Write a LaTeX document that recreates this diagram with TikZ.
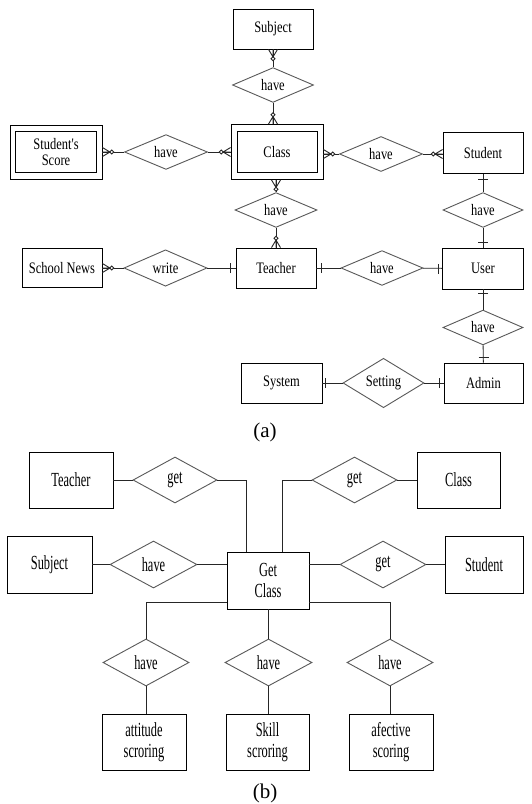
\documentclass[tikz,border=0pt]{standalone}
\usepackage{fontspec}
\setmainfont{Liberation Serif}
\newfontfamily\fa[FakeStretch=0.78]{Liberation Serif}
\newfontfamily\fb[FakeStretch=0.62]{Liberation Serif}
\usetikzlibrary{shapes.geometric,calc}
\tikzset{
 ent/.style={draw=black, line width=0.9pt, rectangle, inner sep=0pt, font=\fa\fontsize{16}{17}\selectfont, align=center},
 rel/.style={draw=black!65, line width=0.9pt, diamond, inner sep=0pt, font=\fa\fontsize{16}{17}\selectfont},
 entb/.style={ent, font=\fb\fontsize{20}{22}\selectfont},
 relb/.style={rel, font=\fb\fontsize{20}{22}\selectfont},
 conn/.style={line width=0.9pt, draw=black!85},
 lab/.style={font=\fontsize{21}{24}\selectfont, inner sep=0pt},
}
\newcommand\crowft[2]{\begin{scope}[shift={(#1)},rotate=#2]\draw[conn] (0,4.5)--(7.5,0)--(0,-4.5) (0,0)--(7.5,0); \draw[conn,fill=white] (9.3,0) circle (1.9);\end{scope}}
\newcommand\onetick[3]{\begin{scope}[shift={(#1)},rotate=#2]\draw[conn] (#3,-5)--(#3,5);\end{scope}}
\begin{document}
\begin{tikzpicture}[x=1pt,y=-1pt]
\fill[white] (0,0) rectangle (532,804);
\useasboundingbox (0,0) rectangle (532,804);
% ---------- (a) ----------
\node[ent, minimum width=80pt, minimum height=40pt] (subj) at (273,29) {Subject};
\node[rel, minimum width=81pt, minimum height=33pt] (hv1) at (273,85) {have};
\node[ent, minimum width=92pt, minimum height=54pt] (ss) at (56,152) {};
\node[ent, minimum width=81pt, minimum height=41pt] (ssin) at (56,152) {Student's\\[-1pt]Score};
\node[rel, minimum width=83pt, minimum height=34pt] (hv2) at (166,152) {have};
\node[ent, minimum width=92pt, minimum height=55pt] (cls) at (277,152) {};
\node[ent, minimum width=80pt, minimum height=41pt] (clsin) at (277,152) {Class};
\node[rel, minimum width=83pt, minimum height=35pt] (hv3) at (381,154) {have};
\node[ent, minimum width=80pt, minimum height=41pt] (stu) at (483,153) {Student};
\node[rel, minimum width=80pt, minimum height=33pt] (hv4) at (483,210) {have};
\node[rel, minimum width=82pt, minimum height=34pt] (hv5) at (276,210) {have};
\node[ent, minimum width=80pt, minimum height=39pt] (sn) at (62,268) {School News};
\node[rel, minimum width=83pt, minimum height=33pt] (wr) at (165.5,268) {write};
\node[ent, minimum width=80pt, minimum height=40pt] (tch) at (276,268) {Teacher};
\node[rel, minimum width=82pt, minimum height=33pt] (hv6) at (382,268) {have};
\node[ent, minimum width=81pt, minimum height=41pt] (usr) at (483,268.5) {User};
\node[rel, minimum width=80pt, minimum height=33pt] (hv7) at (483,327.5) {have};
\node[ent, minimum width=81pt, minimum height=40pt] (sys) at (281.5,383) {System};
\node[rel, minimum width=81pt, minimum height=34pt] (set) at (383.5,383) {Setting};
\node[ent, minimum width=79pt, minimum height=40pt] (adm) at (483.5,383) {Admin};
\node[lab] (la) at (265,432) {(a)};
% connectors (a)
\draw[conn] (subj) -- (hv1);
\draw[conn] (hv1) -- (hv1 |- cls.north);
\draw[conn] (ss) -- (hv2);
\draw[conn] (hv2) -- (cls);
\draw[conn] (cls.east |- hv3) -- (hv3);
\draw[conn] (hv3) -- (stu.west |- hv3);
\draw[conn] (cls.south -| hv5) -- (hv5);
\draw[conn] (hv5) -- (tch);
\draw[conn] (stu) -- (hv4);
\draw[conn] (hv4) -- (usr);
\draw[conn] (sn) -- (wr);
\draw[conn] (wr) -- (tch);
\draw[conn] (tch) -- (hv6);
\draw[conn] (hv6) -- (usr);
\draw[conn] (usr) -- (hv7);
\draw[conn] (hv7) -- (adm);
\draw[conn] (sys) -- (set);
\draw[conn] (set) -- (adm);
% cardinality marks
\crowft{subj.south -| hv1}{270}
\crowft{hv1 |- cls.north}{90}
\crowft{ss.east}{0}
\crowft{cls.west}{180}
\crowft{cls.east |- hv3}{0}
\crowft{stu.west |- hv3}{180}
\crowft{cls.south -| hv5}{270}
\crowft{tch.north}{90}
\crowft{sn.east}{0}
\onetick{stu.south}{270}{5}
\onetick{usr.north}{90}{5}
\onetick{usr.south}{270}{4}
\onetick{adm.north}{90}{5}
\onetick{tch.west}{180}{5}
\onetick{tch.east}{0}{5}
\onetick{usr.west}{180}{4}
\onetick{sys.east}{0}{3}
\onetick{adm.west}{180}{4}
% ---------- (b) ----------
\node[entb, minimum width=84pt, minimum height=56pt] (t2) at (71,480) {Teacher};
\node[relb, minimum width=84pt, minimum height=46pt] (g1) at (175,480) {get};
\node[entb, minimum width=83pt, minimum height=56pt] (c2) at (458.5,480) {Class};
\node[relb, minimum width=85pt, minimum height=46pt] (g2) at (354.5,480) {get};
\node[entb, minimum width=85pt, minimum height=57pt] (s2) at (49.5,564.5) {Subject};
\node[relb, minimum width=87pt, minimum height=47pt] (h0) at (153.5,564.5) {have};
\node[entb, minimum width=82pt, minimum height=57pt] (gc) at (268,580.5) {Get\\[-1pt]Class};
\node[relb, minimum width=86pt, minimum height=47pt] (g3) at (383,564.5) {get};
\node[entb, minimum width=78pt, minimum height=57pt] (st2) at (484,564.5) {Student};
\node[relb, minimum width=86pt, minimum height=47pt] (h1) at (146,662.5) {have};
\node[relb, minimum width=87pt, minimum height=47pt] (h2) at (268.5,662.5) {have};
\node[relb, minimum width=86pt, minimum height=47pt] (h3) at (390,662.5) {have};
\node[entb, minimum width=84pt, minimum height=56pt] (b1) at (144,742) {attitude\\[-1pt]scroring};
\node[entb, minimum width=83pt, minimum height=56pt] (b2) at (267.5,742) {Skill\\[-1pt]scroring};
\node[entb, minimum width=84pt, minimum height=56pt] (b3) at (391,742) {afective\\[-1pt]scoring};
\node[lab] (lb) at (265,793) {(b)};
\coordinate (gtl) at ($(gc.north west)+(20,0)$);
\coordinate (gtr) at ($(gc.north west)+(56,0)$);
\coordinate (gbl) at ($(gc.south west)+(0,-7)$);
\coordinate (gbr) at ($(gc.south east)+(0,-7)$);
\draw[conn] (t2) -- (g1);
\draw[conn] (g1.east) -| (gtl);
\draw[conn] (c2) -- (g2);
\draw[conn] (g2.west) -| (gtr);
\draw[conn] (s2) -- (h0);
\draw[conn] (h0) -- (h0 -| gc.west);
\draw[conn] (gc.east |- g3) -- (g3);
\draw[conn] (g3) -- (st2);
\draw[conn] (gbl) -| (h1.north);
\draw[conn] (gbr) -| (h3.north);
\draw[conn] (gc.south -| h2) -- (h2);
\draw[conn] (h1) -- (b1.north -| h1);
\draw[conn] (h2) -- (b2.north -| h2);
\draw[conn] (h3) -- (b3.north -| h3);
\end{tikzpicture}
\end{document}
